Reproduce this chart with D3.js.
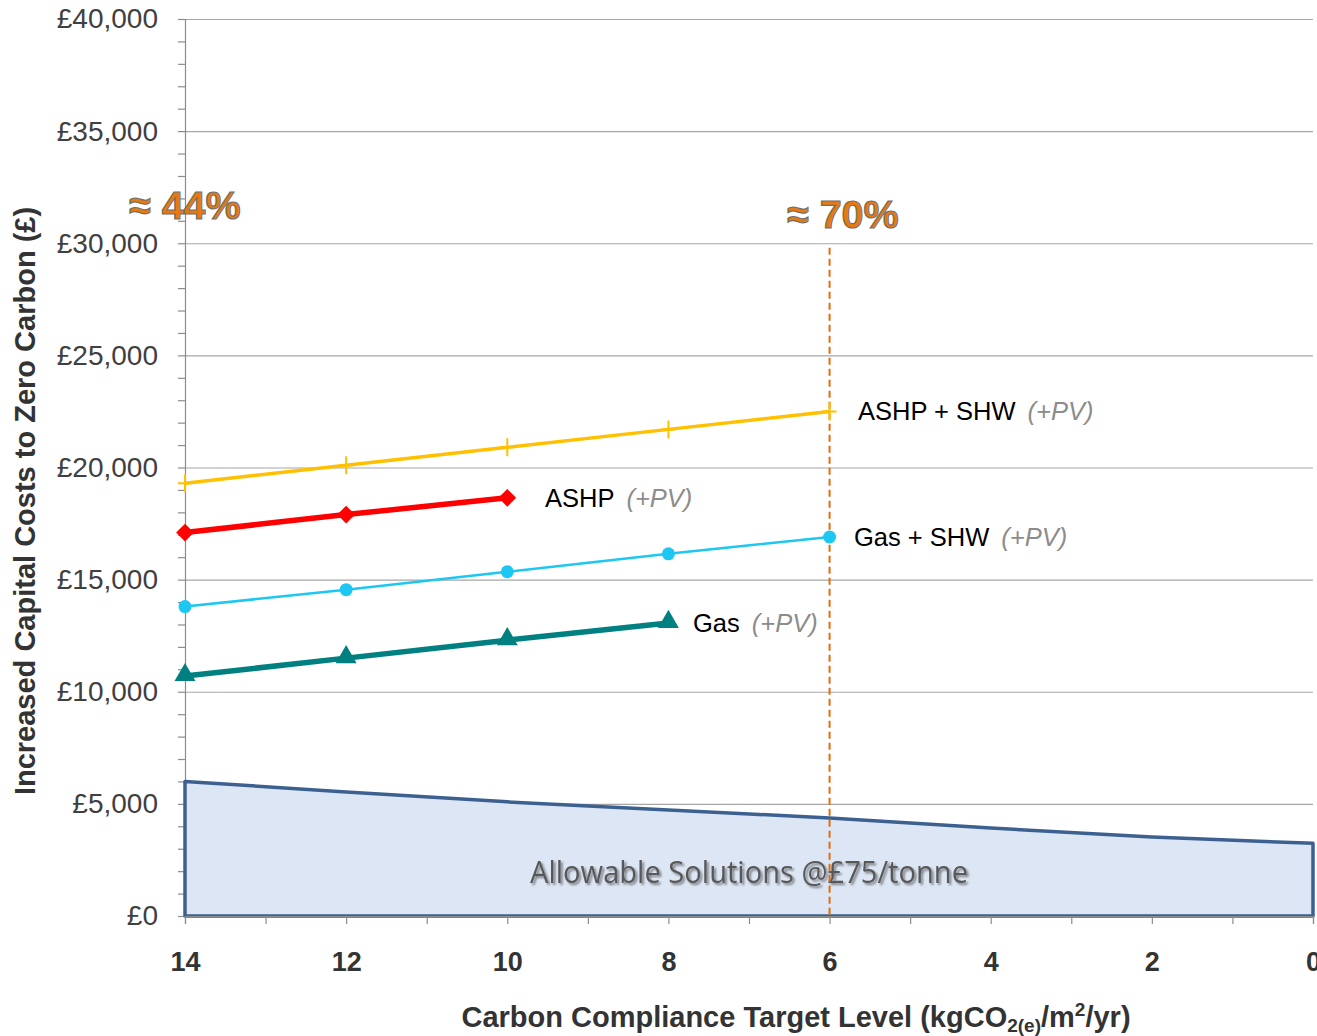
<!DOCTYPE html>
<html>
<head>
<meta charset="utf-8">
<script src="https://cdn.jsdelivr.net/npm/d3@7"></script>
<style>
  body { margin: 0; background: #fff; }
  svg { display: block; font-family: "Liberation Sans", Arial, sans-serif; }
</style>
</head>
<body>
<svg id="chart" width="1317" height="1036"></svg>
<script>
// carbon compliance target levels (kgCO2/m2/yr)
const levels = [14, 12, 10, 8, 6, 4, 2, 0];

// increased capital cost (£) per option
const ashpShw = [19300, 20100, 20900, 21700, 22500];   // 14..6
const ashp    = [17100, 17900, 18650];                 // 14..10
const gasShw  = [13800, 14550, 15350, 16150, 16900];   // 14..6
const gas     = [10700, 11500, 12300, 13070];          // 14..8

// allowable solutions cost @ £75/tonne
const allowable = [6000, 5530, 5090, 4730, 4370, 3920, 3520, 3240];

const yTicks = [0, 5000, 10000, 15000, 20000, 25000, 30000, 35000, 40000];
const targetLevel = 6;       // dashed marker
const targetTop = 29800;

const svg = d3.select("#chart");

const x = d3.scaleLinear().domain([14, 0]).range([185, 1313]);
const y = d3.scaleLinear().domain([0, 40000]).range([916, 19]);

const defs = svg.append("defs");
const shadow = defs.append("filter").attr("id", "shadow")
  .attr("x", "-10%").attr("y", "-10%").attr("width", "130%").attr("height", "140%");
shadow.append("feDropShadow")
  .attr("dx", 2).attr("dy", 2).attr("stdDeviation", 1.2)
  .attr("flood-color", "#000").attr("flood-opacity", 0.45);
const blur = defs.append("filter").attr("id", "blur");
blur.append("feGaussianBlur").attr("stdDeviation", 1.3);

// gridlines
svg.append("g")
  .attr("transform", "translate(185,0)")
  .call(d3.axisLeft(y).tickValues(yTicks).tickSize(-(1313 - 185)).tickFormat(""))
  .call(g => g.select(".domain").remove())
  .call(g => g.selectAll("line").attr("stroke", "#a6a6a6").attr("stroke-width", 1.2));

// y axis minor ticks
svg.append("g")
  .attr("transform", "translate(185,0)")
  .call(d3.axisLeft(y).tickValues(d3.range(0, 40001, 1000)).tickSize(7).tickFormat(""))
  .call(g => g.select(".domain").attr("stroke", "#8c8c8c").attr("stroke-width", 1.2))
  .call(g => g.selectAll("line").attr("stroke", "#8c8c8c").attr("stroke-width", 1.2));

// y labels
svg.append("g")
  .attr("transform", "translate(185,0)")
  .call(d3.axisLeft(y).tickValues(yTicks).tickSize(0).tickPadding(27)
    .tickFormat(d => "£" + d3.format(",")(d)))
  .call(g => g.select(".domain").remove())
  .call(g => g.selectAll("text")
    .attr("font-size", 28).attr("fill", "#404040")
    .attr("font-family", "'Liberation Sans', Arial, sans-serif"));

// allowable solutions area
const areaPts = levels.map((l, i) => [x(l), y(allowable[i])]);
const poly = [[x(14), y(0)], ...areaPts, [x(0), y(0)]];
svg.append("path")
  .attr("d", d3.line()(poly) + "Z")
  .attr("fill", "#dde6f4")
  .attr("stroke", "#3c6190")
  .attr("stroke-width", 3.5)
  .attr("stroke-linejoin", "round");

svg.append("text")
  .attr("x", 749).attr("y", 883)
  .attr("text-anchor", "middle")
  .attr("font-family", "'Liberation Sans Narrow', 'Open Sans', sans-serif")
  .attr("font-size", 31)
  .attr("textLength", 438).attr("lengthAdjust", "spacingAndGlyphs")
  .attr("fill", "#595959")
  .attr("filter", "url(#shadow)")
  .text("Allowable Solutions @£75/tonne");

// x axis
svg.append("g")
  .attr("transform", "translate(0,916)")
  .call(d3.axisBottom(x).tickValues(d3.range(0, 15, 1)).tickSize(8).tickFormat(""))
  .call(g => g.select(".domain").attr("stroke", "#8c8c8c").attr("stroke-width", 1.2))
  .call(g => g.selectAll("line").attr("stroke", "#8c8c8c").attr("stroke-width", 1.2));

svg.append("g")
  .attr("transform", "translate(0,916)")
  .call(d3.axisBottom(x).tickValues(levels).tickSize(0).tickPadding(46).tickFormat(d3.format("d")))
  .call(g => g.select(".domain").remove())
  .call(g => g.selectAll("text")
    .attr("font-size", 27).attr("font-weight", "bold").attr("fill", "#333")
    .attr("dy", "0.35em")
    .attr("font-family", "'Liberation Sans', Arial, sans-serif"));

// dashed target line with soft shadow
svg.append("line")
  .attr("x1", x(targetLevel) + 4).attr("x2", x(targetLevel) + 4)
  .attr("y1", y(targetTop)).attr("y2", y(0))
  .attr("stroke", "#7a7a7a").attr("stroke-width", 5)
  .attr("stroke-dasharray", "7,4")
  .attr("filter", "url(#blur)");
svg.append("line")
  .attr("x1", x(targetLevel)).attr("x2", x(targetLevel))
  .attr("y1", y(targetTop)).attr("y2", y(0))
  .attr("stroke", "#e36c0a").attr("stroke-width", 2)
  .attr("stroke-dasharray", "7,4");

// series
const line = d3.line().x(d => x(d[0])).y(d => y(d[1]));
function pairs(vals) { return vals.map((v, i) => [levels[i], v]); }

function drawSeries(vals, color, width, marker) {
  const pts = pairs(vals);
  svg.append("path").attr("d", line(pts))
    .attr("fill", "none").attr("stroke", color).attr("stroke-width", width);
  const g = svg.append("g");
  pts.forEach(p => {
    const cx = x(p[0]), cy = y(p[1]);
    if (marker === "plus") {
      g.append("path").attr("d", `M${cx - 7},${cy}H${cx + 7}M${cx},${cy - 9}V${cy + 9}`)
        .attr("stroke", color).attr("stroke-width", 2);
    } else if (marker === "diamond") {
      g.append("path").attr("d", d3.symbol(d3.symbolDiamond2, 200)())
        .attr("transform", `translate(${cx},${cy})`).attr("fill", color);
    } else if (marker === "circle") {
      g.append("circle").attr("cx", cx).attr("cy", cy).attr("r", 6.5).attr("fill", color);
    } else if (marker === "triangle") {
      g.append("path").attr("d", d3.symbol(d3.symbolTriangle, 190)())
        .attr("transform", `translate(${cx},${cy - 1})`).attr("fill", color);
    }
  });
}

drawSeries(ashpShw, "#ffc000", 3.5, "plus");
drawSeries(ashp, "#ff0000", 5.5, "diamond");
drawSeries(gasShw, "#1cc7f2", 2.5, "circle");
drawSeries(gas, "#008080", 5.5, "triangle");

// series labels
const seriesLabels = [
  { name: "ASHP + SHW", lx: 858, vals: ashpShw },
  { name: "ASHP", lx: 545, vals: ashp },
  { name: "Gas + SHW", lx: 854, vals: gasShw },
  { name: "Gas", lx: 693, vals: gas }
];
seriesLabels.forEach(s => {
  const t = svg.append("text")
    .attr("x", s.lx).attr("y", y(s.vals[s.vals.length - 1]))
    .attr("dy", "0.35em")
    .attr("font-size", 25.5).attr("fill", "#000");
  t.append("tspan").text(s.name);
  t.append("tspan").attr("dx", 12).attr("font-style", "italic").attr("fill", "#8c8c8c").text("(+PV)");
});

// percentage callouts
const callouts = [
  { text: "≈ 44%", x: 129, y: 219 },
  { text: "≈ 70%", x: 787, y: 228 }
];
callouts.forEach(c => {
  svg.append("text")
    .attr("x", c.x).attr("y", c.y)
    .attr("font-size", 39.5).attr("font-weight", "bold")
    .attr("fill", "#e8790f").attr("stroke", "#6f6f6f").attr("stroke-width", 1.1)
    .text(c.text);
});

// axis titles
svg.append("text")
  .attr("transform", "translate(35,501) rotate(-90)")
  .attr("text-anchor", "middle")
  .attr("font-size", 29).attr("font-weight", "bold").attr("fill", "#333")
  .text("Increased Capital Costs to Zero Carbon (£)");

const xt = svg.append("text")
  .attr("x", 796).attr("y", 1027)
  .attr("text-anchor", "middle")
  .attr("font-size", 29).attr("font-weight", "bold").attr("fill", "#333");
xt.append("tspan").text("Carbon Compliance Target Level (kgCO");
xt.append("tspan").attr("font-size", 19).attr("dy", 5).text("2(e)");
xt.append("tspan").attr("dy", -5).text("/m");
xt.append("tspan").attr("font-size", 19).attr("dy", -11).text("2");
xt.append("tspan").attr("dy", 11).text("/yr)");
</script>
</body>
</html>
